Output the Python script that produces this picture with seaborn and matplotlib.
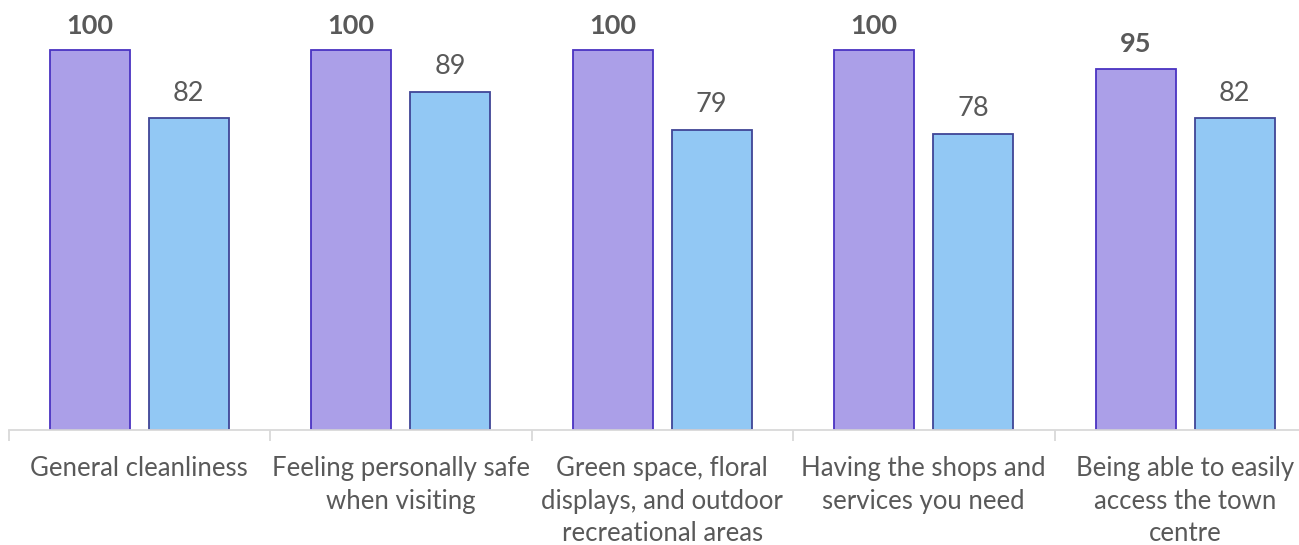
import matplotlib
matplotlib.use("Agg")
import matplotlib.pyplot as plt
import seaborn as sns
import pandas as pd
import numpy as np

categories = ["General cleanliness",
              "Feeling personally safe\nwhen visiting",
              "Green space, floral\ndisplays, and outdoor\nrecreational areas",
              "Having the shops and\nservices you need",
              "Being able to easily\naccess the town\ncentre"]
series_names = ["Series A", "Series B"]
series_a = [100, 100, 100, 100, 95]
series_b = [82, 89, 79, 78, 82]

df = pd.DataFrame({
    "category": categories * 2,
    "series": [series_names[0]] * 5 + [series_names[1]] * 5,
    "value": series_a + series_b,
})

sns.set_theme(style="white")
plt.rcParams['font.family'] = ['Lato', 'DejaVu Sans']

W, H = 1299, 545
fig = plt.figure(figsize=(W / 100, H / 100), dpi=100)
x0, x1 = 8.5, 8.5 + 261.5 * 5
ybase = 430
ax = fig.add_axes([x0 / W, (H - ybase) / H, (x1 - x0) / W, ybase / H])

fills = ["#AB9FE8", "#92C8F4"]
edges = ["#4A33C2", "#404596"]
sns.barplot(data=df, x="category", y="value", hue="series", order=categories,
            hue_order=series_names, palette=fills, width=0.757, gap=0.19,
            ax=ax, legend=False, saturation=1)

for i, cont in enumerate(ax.containers):
    for bar in cont:
        bar.set_edgecolor(edges[i])
        bar.set_linewidth(1.3)
    ax.bar_label(cont, fmt="%g", padding=9, fontsize=19.5,
                 color="#595959", fontweight="bold" if i == 0 else "normal")

ax.set_xlim(-0.5, 4.5)
ax.set_ylim(0, 100 * ybase / 380)
ax.set_xlabel("")
ax.set_ylabel("")
ax.set_yticks([])
for s in ["top", "right", "left"]:
    ax.spines[s].set_visible(False)
ax.spines["bottom"].set_color("#D9D9D9")
ax.spines["bottom"].set_linewidth(1.3)
ax.set_xticks(range(5))
ax.set_xticklabels(categories, fontsize=18.5, color="#595959", linespacing=1.36)
ax.tick_params(axis="x", which="major", length=0, pad=19)
ax.set_xticks(np.arange(-0.5, 5.0, 1.0), minor=True)
ax.tick_params(axis="x", which="minor", length=8, width=1.3, color="#D9D9D9", bottom=True)

fig.savefig("out.png", dpi=100)
